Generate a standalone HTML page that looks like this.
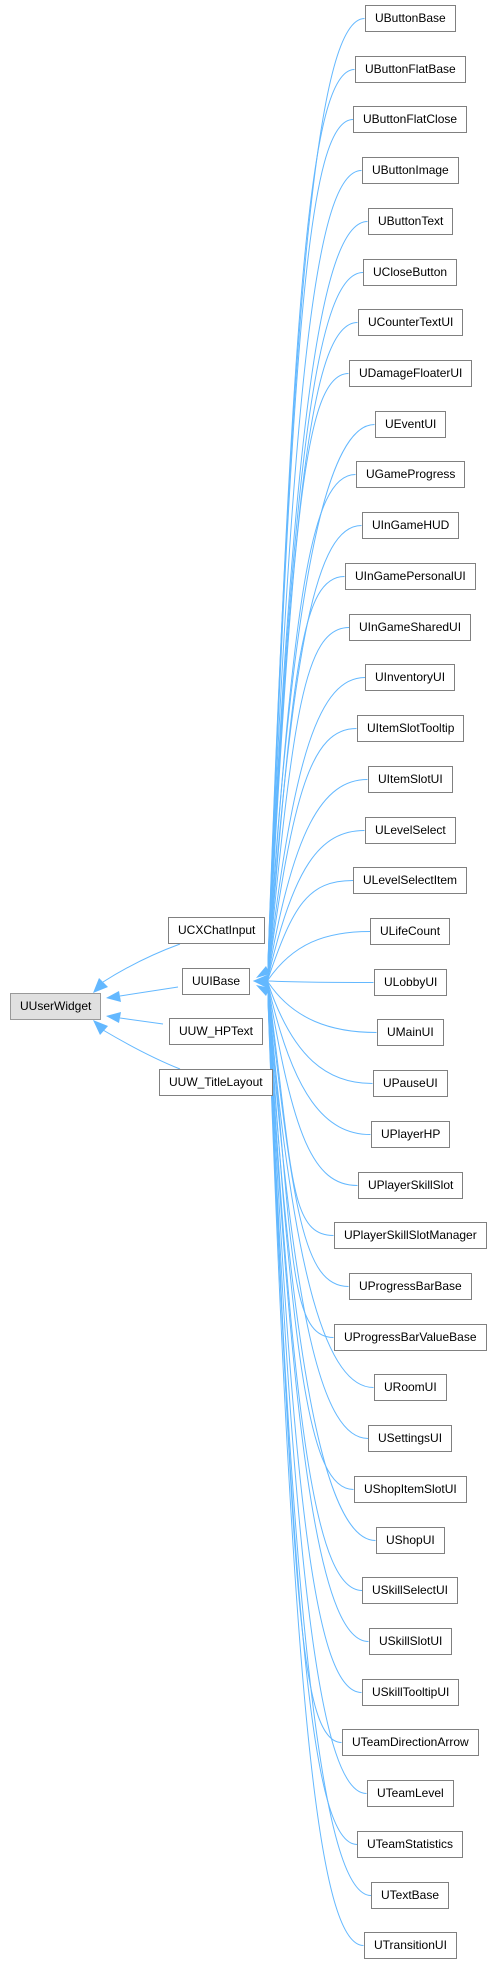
<!DOCTYPE html>
<html><head><meta charset="utf-8"><style>
html,body{margin:0;padding:0;background:#fff;}
body{width:499px;height:1963px;position:relative;overflow:hidden;font-family:"Liberation Sans",Arial,sans-serif;}
.n{position:absolute;height:25px;line-height:25px;border:1px solid #808080;background:#fff;font-size:12px;color:#000;white-space:nowrap;box-sizing:content-box;padding:0 9px;}
svg{position:absolute;left:0;top:0;}
</style></head><body>
<svg id="s" width="499" height="1963" viewBox="0 0 499 1963"></svg>
<div id="c"></div>
<script>
var names=["UButtonBase","UButtonFlatBase","UButtonFlatClose","UButtonImage","UButtonText","UCloseButton","UCounterTextUI","UDamageFloaterUI","UEventUI","UGameProgress","UInGameHUD","UInGamePersonalUI","UInGameSharedUI","UInventoryUI","UItemSlotTooltip","UItemSlotUI","ULevelSelect","ULevelSelectItem","ULifeCount","ULobbyUI","UMainUI","UPauseUI","UPlayerHP","UPlayerSkillSlot","UPlayerSkillSlotManager","UProgressBarBase","UProgressBarValueBase","URoomUI","USettingsUI","UShopItemSlotUI","UShopUI","USkillSelectUI","USkillSlotUI","USkillTooltipUI","UTeamDirectionArrow","UTeamLevel","UTeamStatistics","UTextBase","UTransitionUI"];
var c=document.getElementById('c'),s=document.getElementById('s'),p='';
function node(t,cx,top,bg){var d=document.createElement('div');d.className='n';d.textContent=t;d.style.top=top+'px';if(bg){d.style.background=bg;d.style.borderColor='#999';}c.appendChild(d);var w=d.offsetWidth;d.style.left=Math.round(cx-w/2)+'px';return {l:cx-w/2,r:cx+w/2,cy:top+13.5};}
var ST='stroke="#63b8ff" stroke-width="1" fill="none"';
var ub=node('UUIBase',216,968);
names.forEach(function(n,i){var top=Math.round(5+50.72*i);var b=node(n,410,top);var cy=b.cy;
 var ty=981+(cy-981)*0.02;
 p+='<path d="M'+b.l+','+cy+' C'+(b.l-45)+','+cy+' '+(293)+','+(cy+(981-cy)*0.25)+' 268,'+ty+'" '+ST+'/>';});
p+='<polygon points="254,981 268,975 268,988" fill="#63b8ff" stroke="#63b8ff"/>';
p+='<polygon points="256,978 266,966 270,974" fill="#63b8ff"/><polygon points="256,985 266,996 270,988" fill="#63b8ff"/>';
var uw=node('UUserWidget',55,993,'#e0e0e0');
node('UCXChatInput',216,917);node('UUW_HPText',216,1018);node('UUW_TitleLayout',216,1069);
p+='<path d="M180,944 C150,955 125,968 103,982" '+ST+'/><polygon points="93,993 99,978 108,987" fill="#63b8ff"/>';
p+='<path d="M178,987 L120,996" '+ST+'/><polygon points="106,998 119,991 121,1002" fill="#63b8ff"/>';
p+='<path d="M163,1024 L120,1018" '+ST+'/><polygon points="106,1016 121,1012 119,1023" fill="#63b8ff"/>';
p+='<path d="M180,1069 C150,1057 125,1043 103,1030" '+ST+'/><polygon points="93,1020 108,1026 100,1035" fill="#63b8ff"/>';
s.innerHTML=p;
</script>
</body></html>
